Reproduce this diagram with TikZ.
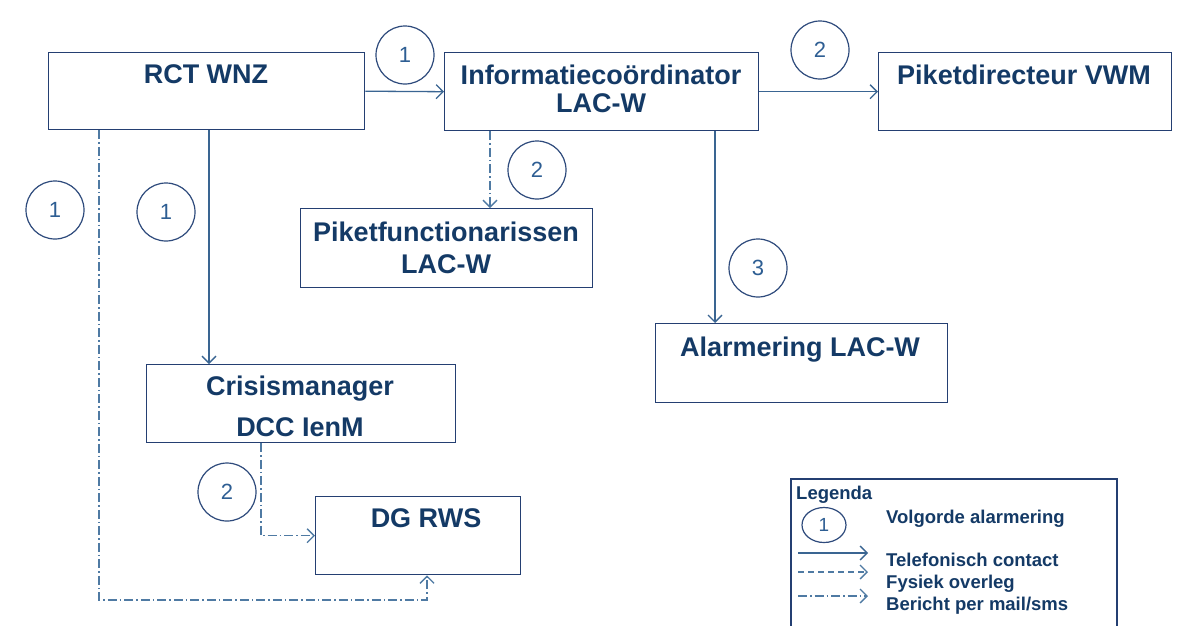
\documentclass[tikz,border=0pt]{standalone}
\usepackage{fontspec}
\setmainfont{Liberation Sans}
\usetikzlibrary{arrows.meta,shapes.geometric}
\definecolor{txtblue}{HTML}{143A66}
\definecolor{boxline}{HTML}{243F72}
\definecolor{conn}{HTML}{3A6592}
\definecolor{dashconn}{HTML}{4F7AA3}
\definecolor{circline}{HTML}{2E4A7C}
\definecolor{numblue}{HTML}{2E5E93}
\tikzset{
  box/.style={draw=boxline, line width=1.4pt, rectangle, anchor=north west, inner sep=0pt},
  btxt/.style={text=txtblue, font=\bfseries\fontsize{27}{30}\selectfont, inner sep=0pt, text height=19.3pt, text depth=0pt, anchor=center},
  ltxt/.style={text=txtblue, font=\bfseries\fontsize{18.5}{20}\selectfont, inner sep=0pt, text height=13.2pt, text depth=0pt, anchor=west},
  num/.style={draw=circline, line width=1.2pt, circle, minimum size=58pt, inner sep=0pt, text=numblue, font=\fontsize{22}{24}\selectfont},
  tipa/.style={-{Straight Barb[length=7pt,width=14pt,line width=1.3pt]}},
  tel/.style={draw=conn, line width=1.3pt, tipa},
  mail/.style={draw=dashconn, line width=1.3pt, dash pattern=on 9pt off 3pt on 1.5pt off 3pt, tipa},
  fys/.style={draw=dashconn, line width=1.3pt, dash pattern=on 6pt off 4pt, tipa},
}
\begin{document}
\begin{tikzpicture}[x=1pt,y=-1pt]
\useasboundingbox (0,0) rectangle (1190,625);
\fill[white] (0,0) rectangle (1190,625);

% boxes
\node[box, minimum width=316pt, minimum height=77pt] (rct) at (48,52) {};
\node[box, minimum width=314pt, minimum height=78pt] (info) at (444,52) {};
\node[box, minimum width=293pt, minimum height=78pt] (pd) at (878,52) {};
\node[box, minimum width=292pt, minimum height=79pt] (pf) at (300,208) {};
\node[box, minimum width=292pt, minimum height=79pt] (al) at (655,323) {};
\node[box, minimum width=309pt, minimum height=78pt] (cm) at (146,364) {};
\node[box, minimum width=205pt, minimum height=78pt] (dg) at (315,496) {};

% box texts
\node[btxt] (trct) at (206,74) {RCT WNZ};
\node[btxt] (tinfo1) at (601,75) {Informatiecoördinator};
\node[btxt] (tinfo2) at (601,103) {LAC-W};
\node[btxt] (tpd) at (1024,75) {Piketdirecteur VWM};
\node[btxt] (tpf1) at (446,232) {Piketfunctionarissen};
\node[btxt] (tpf2) at (446,264) {LAC-W};
\node[btxt] (tal) at (800,347) {Alarmering LAC-W};
\node[btxt] (tcm1) at (300,386) {Crisismanager};
\node[btxt] (tcm2) at (300,427) {DCC IenM};
\node[btxt] (tdg) at (426,518) {DG RWS};

% connectors
\draw[tel] (rct.east) -- (info.west);
\draw[tel] (info.east) -- (pd.west);
\draw[mail] ([xshift=46pt]info.south west) coordinate (a1) -- (a1 |- pf.north);
\draw[tel] ([xshift=271pt]info.south west) coordinate (a2) -- (a2 |- al.north);
\draw[tel] ([xshift=161pt]rct.south west) coordinate (a3) -- (a3 |- cm.north);
\coordinate (c1) at (99,600);
\coordinate (c2) at (427,600);
\draw[mail] ([xshift=51pt]rct.south west) -- (c1) -- (c2) -- (c2 |- dg.south);
\draw[mail] ([xshift=115pt]cm.south west) |- (dg.west);

% sequence circles
\node[num] (n1) at (405,55) {1};
\node[num] (n2) at (820,50) {2};
\node[num] (n3) at (537,170) {2};
\node[num] (n4) at (758,268) {3};
\node[num] (n5) at (166,212) {1};
\node[num] (n6) at (55,210) {1};
\node[num] (n7) at (227,492) {2};

% legend
\draw[draw=boxline, line width=1.4pt] (791,479) rectangle (1117,640);
\node[ltxt] (lg) at (796,493) {Legenda};
\node[draw=circline, line width=1.2pt, ellipse, minimum width=44pt, minimum height=35pt, inner sep=0pt, text=numblue, font=\fontsize{19}{21}\selectfont] (lc) at (824,525) {1};
\node[ltxt] (l1) at (886,517) {Volgorde alarmering};
\coordinate (s1) at (798,553); \coordinate (e1) at (868,553);
\coordinate (s2) at (798,572); \coordinate (e2) at (868,572);
\coordinate (s3) at (798,596); \coordinate (e3) at (868,596);
\draw[tel, line width=1.2pt] (s1) -- (e1);
\draw[fys, line width=1.2pt] (s2) -- (e2);
\draw[mail, line width=1.2pt] (s3) -- (e3);
\node[ltxt] (l2) at (886,560) {Telefonisch contact};
\node[ltxt] (l3) at (886,582) {Fysiek overleg};
\node[ltxt] (l4) at (886,604) {Bericht per mail/sms};
\end{tikzpicture}
\end{document}
